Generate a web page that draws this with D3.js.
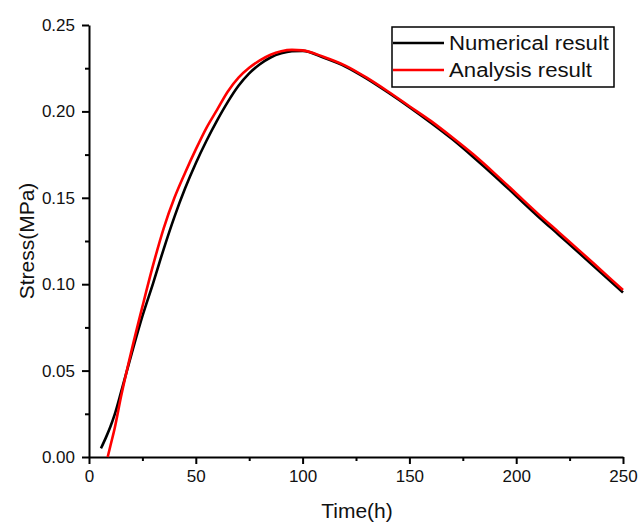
<!DOCTYPE html>
<html>
<head>
<meta charset="utf-8">
<script src="https://cdn.jsdelivr.net/npm/d3@7"></script>
<style>
  body { margin: 0; background: #fff; }
  text { font-family: "Liberation Sans", Arial, sans-serif; fill: #111; }
</style>
</head>
<body>
<script>
// data
const numTime = [5.6, 8, 10, 12, 15, 20, 25, 30, 35, 40, 45, 50, 55, 60, 65, 70, 75, 80, 85, 90, 95, 100,
                 110, 120, 130, 140, 150, 160, 170, 180, 190, 200, 210, 220, 230, 240, 250];
const numStress = [0.005, 0.0115, 0.0175, 0.0245, 0.0375, 0.060, 0.0815, 0.1005, 0.1205, 0.139, 0.1555, 0.170, 0.183, 0.1948, 0.2055, 0.2148, 0.222, 0.2273, 0.2312, 0.2336, 0.2348, 0.2350,
                   0.231, 0.226, 0.219, 0.211, 0.2025, 0.1935, 0.184, 0.1735, 0.1625, 0.151, 0.1395, 0.1285, 0.1175, 0.1063, 0.0952];
const anaTime = [8.75, 10, 12, 15, 20, 25, 30, 35, 40, 45, 50, 55, 60, 65, 70, 75, 80, 85, 90, 95, 100,
                 110, 120, 130, 140, 150, 160, 170, 180, 190, 200, 210, 220, 230, 240, 250];
const anaStress = [0, 0.0064, 0.0165, 0.035, 0.062, 0.087, 0.111, 0.1325, 0.150, 0.1645, 0.178, 0.1905, 0.201, 0.2115, 0.2195, 0.2252, 0.2295, 0.2328, 0.2348, 0.2356, 0.2353,
                   0.2315, 0.2265, 0.2195, 0.2115, 0.203, 0.1945, 0.185, 0.175, 0.164, 0.1525, 0.141, 0.130, 0.119, 0.1078, 0.0966];
const xTicks = [0, 50, 100, 150, 200, 250];
const yTicks = [0, 0.05, 0.10, 0.15, 0.20, 0.25];
const seriesNames = ["Numerical result", "Analysis result"];
const seriesColors = ["#000000", "#ff0000"];

const width = 638, height = 523;
const x = d3.scaleLinear().domain([0, 250]).range([89, 623]);
const y = d3.scaleLinear().domain([0, 0.25]).range([457, 25]);

const svg = d3.select("body").append("svg")
  .attr("width", width)
  .attr("height", height);

// minor ticks
svg.append("g")
  .attr("transform", "translate(0,457)")
  .call(d3.axisBottom(x).tickValues([25, 75, 125, 175, 225]).tickSize(4).tickFormat(""))
  .call(g => g.select(".domain").remove())
  .selectAll("line").attr("stroke-width", 2);
svg.append("g")
  .attr("transform", "translate(89,0)")
  .call(d3.axisLeft(y).tickValues([0.025, 0.075, 0.125, 0.175, 0.225]).tickSize(4).tickFormat(""))
  .call(g => g.select(".domain").remove())
  .selectAll("line").attr("stroke-width", 2);

// x axis
const xAxis = svg.append("g")
  .attr("transform", "translate(0,457)")
  .call(d3.axisBottom(x).tickValues(xTicks).tickSize(7).tickSizeOuter(0).tickPadding(6).tickFormat(d3.format("d")));
xAxis.select(".domain").attr("stroke-width", 2);
xAxis.selectAll("line").attr("stroke-width", 2);
xAxis.selectAll("text").style("font-size", "17px").attr("fill", "#111");

// y axis
const yAxis = svg.append("g")
  .attr("transform", "translate(89,0)")
  .call(d3.axisLeft(y).tickValues(yTicks).tickSize(7).tickSizeOuter(0).tickPadding(7).tickFormat(d3.format(".2f")));
yAxis.select(".domain").attr("stroke-width", 2);
yAxis.selectAll("line").attr("stroke-width", 2);
yAxis.selectAll("text").style("font-size", "17px").attr("fill", "#111");

// axis titles
svg.append("text")
  .attr("x", 357).attr("y", 518)
  .attr("text-anchor", "middle")
  .style("font-size", "21px")
  .text("Time(h)");
svg.append("text")
  .attr("transform", "translate(34,241) rotate(-90)")
  .attr("text-anchor", "middle")
  .style("font-size", "21px")
  .text("Stress(MPa)");

// curves
const line = d3.line()
  .x(d => x(d[0]))
  .y(d => y(d[1]))
  .curve(d3.curveMonotoneX);

const series = [
  d3.zip(numTime, numStress),
  d3.zip(anaTime, anaStress)
];

svg.selectAll(".curve")
  .data(series)
  .enter().append("path")
  .attr("class", "curve")
  .attr("d", line)
  .attr("fill", "none")
  .attr("stroke", (d, i) => seriesColors[i])
  .attr("stroke-width", 2.6);

// legend
svg.append("rect")
  .attr("x", 392).attr("y", 27)
  .attr("width", 222).attr("height", 60)
  .attr("fill", "#fff")
  .attr("stroke", "#000")
  .attr("stroke-width", 1.5);

const legend = svg.selectAll(".legend")
  .data(seriesNames)
  .enter().append("g")
  .attr("class", "legend")
  .attr("transform", (d, i) => "translate(0," + (43 + i * 27) + ")");

legend.append("line")
  .attr("x1", 393).attr("x2", 444)
  .attr("stroke", (d, i) => seriesColors[i])
  .attr("stroke-width", 2.5);

legend.append("text")
  .attr("x", 449)
  .attr("dy", "0.36em")
  .style("font-size", "20px")
  .attr("textLength", (d, i) => i === 0 ? 160 : 143)
  .attr("lengthAdjust", "spacingAndGlyphs")
  .text(d => d);
</script>
</body>
</html>
